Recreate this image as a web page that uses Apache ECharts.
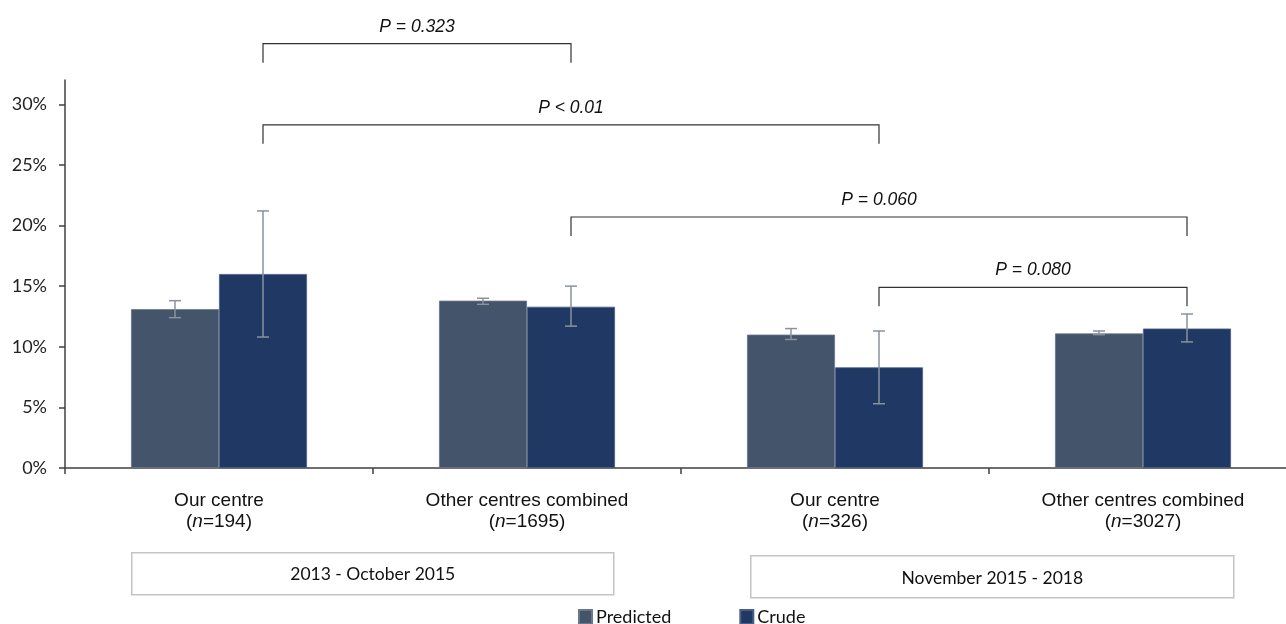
<!DOCTYPE html>
<html>
<head>
<meta charset="utf-8">
<script src="https://cdn.jsdelivr.net/npm/echarts@6/dist/echarts.min.js"></script>
<style>
html,body{margin:0;padding:0;background:#fff;}
#chart{width:1286px;height:624px;}
</style>
</head>
<body>
<div id="chart"></div>
<script>
// ---- data ----
const categories = ['Our centre', 'Other centres combined', 'Our centre', 'Other centres combined'];
const nValues = ['194', '1695', '326', '3027'];
const predicted = [13.1, 13.8, 11.0, 11.1];
const predictedLow = [12.4, 13.5, 10.6, 11.0];
const predictedHigh = [13.8, 14.0, 11.5, 11.3];
const crude = [16.0, 13.3, 8.3, 11.5];
const crudeLow = [10.8, 11.7, 5.3, 10.4];
const crudeHigh = [21.2, 15.0, 11.3, 12.7];
const yTicks = [0, 5, 10, 15, 20, 25, 30];
const bracketFrom = [0, 0, 1, 2];
const bracketTo = [1, 2, 3, 3];
const bracketLevel = [35.0, 28.3, 20.7, 14.9];
const pText = ['P = 0.323', 'P < 0.01', 'P = 0.060', 'P = 0.080'];
const periodLabels = ['2013 - October 2015', 'November 2015 - 2018'];

// ---- styling ----
const BAR_W = 88;
const C_PRED = '#44546A';
const C_CRUDE = '#1F3864';
const C_ERR = '#8a929c';
const ARIAL = 'Liberation Sans, Arial, sans-serif';
const CALIBRI = 'Lato, sans-serif';

const chart = echarts.init(document.getElementById('chart'));

function errorSeries(name, low, high, offset) {
  return {
    type: 'custom',
    name: name + ' CI',
    z: 5,
    silent: true,
    clip: false,
    data: low.map((l, i) => [i, l, high[i]]),
    renderItem: function (params, api) {
      const lo = api.coord([api.value(0), api.value(1)]);
      const hi = api.coord([api.value(0), api.value(2)]);
      const x = lo[0] + offset;
      const cap = 6;
      const st = { stroke: C_ERR, lineWidth: 1.5 };
      return {
        type: 'group',
        children: [
          { type: 'line', shape: { x1: x, y1: lo[1], x2: x, y2: hi[1] }, style: st },
          { type: 'line', shape: { x1: x - cap, y1: lo[1], x2: x + cap, y2: lo[1] }, style: st },
          { type: 'line', shape: { x1: x - cap, y1: hi[1], x2: x + cap, y2: hi[1] }, style: st }
        ]
      };
    }
  };
}

const bracketSeries = {
  type: 'custom',
  name: 'brackets',
  silent: true,
  clip: false,
  z: 6,
  data: bracketFrom.map((f, i) => [f, bracketTo[i], bracketLevel[i]]),
  renderItem: function (params, api) {
    const a = api.coord([api.value(0), api.value(2)]);
    const b = api.coord([api.value(1), api.value(2)]);
    const x1 = a[0] + BAR_W / 2;
    const x2 = b[0] + BAR_W / 2;
    const y = a[1];
    const drop = 19;
    return {
      type: 'group',
      children: [
        { type: 'polyline', shape: { points: [[x1, y + drop], [x1, y], [x2, y], [x2, y + drop]] },
          style: { stroke: '#333', lineWidth: 1.2, fill: null } },
        { type: 'text', x: (x1 + x2) / 2, y: y - 8,
          style: { text: pText[params.dataIndex], fontSize: 17.5, fontStyle: 'italic',
            fontFamily: ARIAL, fill: '#111',
            align: 'center', verticalAlign: 'bottom' } }
      ]
    };
  }
};

const option = {
  animation: false,
  backgroundColor: '#fff',
  grid: { left: 65, top: 80, width: 1232, height: 388, outerBoundsMode: 'none', containLabel: false },
  legend: {
    left: 573, top: 603,
    itemWidth: 13, itemHeight: 14, itemGap: 68,
    icon: 'rect',
    data: ['Predicted', 'Crude'],
    textStyle: { fontSize: 18, fontFamily: CALIBRI, color: '#111', padding: [0, 0, 0, -1] }
  },
  xAxis: {
    type: 'category',
    data: categories,
    axisLine: { lineStyle: { color: '#404040', width: 1.5 } },
    axisTick: { show: true, length: 6, lineStyle: { color: '#404040', width: 1.5 } },
    axisLabel: {
      margin: 22,
      fontSize: 19,
      lineHeight: 21,
      fontFamily: ARIAL,
      color: '#111',
      formatter: function (value, idx) {
        return value + '\n({i|n}=' + nValues[idx] + ')';
      },
      rich: {
        i: { fontStyle: 'italic', fontSize: 19, lineHeight: 21, fontFamily: ARIAL, color: '#111' }
      }
    }
  },
  yAxis: {
    type: 'value',
    min: 0, max: 32, interval: 5,
    splitLine: { show: false },
    axisLine: { show: true, lineStyle: { color: '#404040', width: 1.5 } },
    axisTick: { show: true, length: 6, customValues: yTicks, lineStyle: { color: '#404040', width: 1.5 } },
    axisLabel: {
      customValues: yTicks,
      margin: 18,
      fontSize: 18,
      fontFamily: CALIBRI,
      color: '#222',
      formatter: v => v + '%'
    }
  },
  series: [
    { name: 'Predicted', type: 'bar', data: predicted, barWidth: BAR_W, barGap: '0%',
      itemStyle: { color: C_PRED, borderColor: '#6a7789', borderWidth: 0.8 } },
    { name: 'Crude', type: 'bar', data: crude, barWidth: BAR_W, barGap: '0%',
      itemStyle: { color: C_CRUDE, borderColor: '#4a5f86', borderWidth: 0.8 } },
    errorSeries('Predicted', predictedLow, predictedHigh, -BAR_W / 2),
    errorSeries('Crude', crudeLow, crudeHigh, BAR_W / 2),
    bracketSeries
  ],
  graphic: [
    { type: 'group', left: 131, top: 552, children: [
      { type: 'rect', shape: { x: 0, y: 0, width: 482, height: 42 },
        style: { fill: '#fff', stroke: '#c4c4c4', lineWidth: 1.5 } },
      { type: 'text', x: 241, y: 22,
        style: { text: periodLabels[0], fontSize: 17.5, fontFamily: CALIBRI, fill: '#111', align: 'center', verticalAlign: 'middle' } }
    ] },
    { type: 'group', left: 750, top: 555, children: [
      { type: 'rect', shape: { x: 0, y: 0, width: 483, height: 42 },
        style: { fill: '#fff', stroke: '#c4c4c4', lineWidth: 1.5 } },
      { type: 'text', x: 241.5, y: 23,
        style: { text: periodLabels[1], fontSize: 17.5, fontFamily: CALIBRI, fill: '#111', align: 'center', verticalAlign: 'middle' } }
    ] }
  ]
};

chart.setOption(option);
</script>
</body>
</html>
